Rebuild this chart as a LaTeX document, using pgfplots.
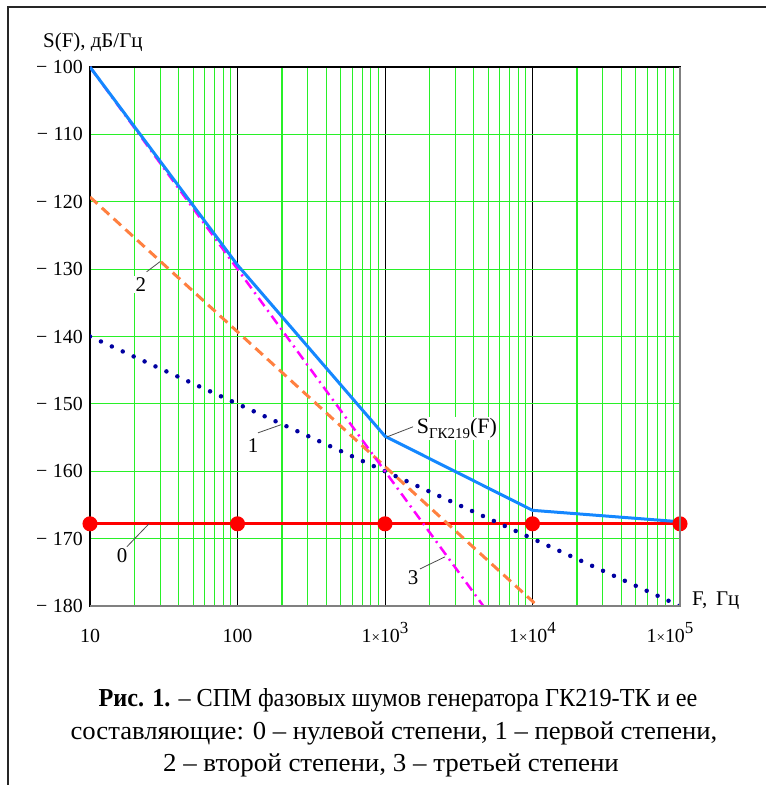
\documentclass[border=0pt]{standalone}
\usepackage{pgfplots}
\pgfplotsset{compat=1.18}
\usepackage{fontspec}
\setmainfont{Liberation Serif}
\definecolor{gridgreen}{RGB}{40,240,40}
\definecolor{navyd}{RGB}{0,0,160}
\definecolor{orng}{RGB}{255,128,64}
\definecolor{magn}{RGB}{255,0,255}
\definecolor{bluel}{RGB}{20,135,255}
\definecolor{redl}{RGB}{255,0,0}
\newcommand{\ex}[1]{1{\fontsize{15}{15}\selectfont ×}10\raisebox{0.5em}{\fontsize{17}{17}\selectfont #1}}
\begin{document}
\fontsize{20}{24}\selectfont
\begin{tikzpicture}
\useasboundingbox (-90bp,-179bp) rectangle (676bp,606bp);
\begin{axis}[
  at={(0,0)}, anchor=south west,
  scale only axis, width=590bp, height=539bp,
  xmode=log, xmin=10, xmax=100000, ymin=-180, ymax=-100,
  xtick={10,100,1000,10000,100000},
  xticklabels={10,100,{\ex{3}},{\ex{4}},{\hspace*{-20bp}\ex{5}}},
  minor xtick={20,30,40,50,60,70,80,90,200,300,400,500,600,700,800,900,2000,3000,4000,5000,6000,7000,8000,9000,20000,30000,40000,50000,60000,70000,80000,90000},
  ytick={-180,-170,-160,-150,-140,-130,-120,-110,-100},
  yticklabels={−\;180,−\;170,−\;160,−\;150,−\;140,−\;130,−\;120,−\;110,−\;100},
  major tick length=0pt, minor tick length=0pt,
  xmajorgrids=true, xminorgrids=true, ymajorgrids=true,
  major x grid style={black, line width=1bp},
  minor x grid style={gridgreen, line width=1.2bp},
  major y grid style={gridgreen, line width=1.2bp},
  axis line style={black, line width=1.2bp},
  tick label style={font=\fontsize{20}{24}\selectfont},
  xticklabel style={anchor=base, inner sep=0pt, yshift=-37bp},
  yticklabel style={anchor=east, inner sep=0pt, xshift=-7bp},
]
\addplot[redl, line width=3bp, mark=*, mark size=6bp, mark options={solid, fill=redl}] coordinates {(10,-167.8) (100,-167.8) (1000,-167.8) (10000,-167.8) (100000,-167.8)};
\addplot[navyd, line width=4.5bp, line cap=round, dash pattern=on 0bp off 12bp] coordinates {(10,-140) (100000,-180)};
\addplot[orng, line width=3bp, dash pattern=on 10bp off 6bp] coordinates {(10,-119.3) (100000,-199.3)};
\addplot[magn, line width=2.5bp, dash pattern=on 10bp off 5bp on 2bp off 5bp] coordinates {(10,-100) (100000,-220)};
\addplot[bluel, line width=3bp] coordinates {(10,-100) (100,-129.4) (1000,-154.8) (10000,-165.8) (100000,-167.5)};
% labels
\draw[black!70, line width=0.8bp] (axis cs:17.8,-171.2) -- (axis cs:25.1,-167.8);
\node[fill=white, inner sep=1.5bp, font=\fontsize{21}{24}\selectfont] at (axis cs:16.5,-172.6) {0};
\draw[black!70, line width=0.8bp] (axis cs:137.7,-154.3) -- (axis cs:197,-153.1);
\node[fill=white, inner sep=1.5bp, font=\fontsize{21}{24}\selectfont] at (axis cs:127.4,-156.2) {1};
\draw[black!70, line width=0.8bp] (axis cs:24.2,-130.4) -- (axis cs:29.8,-128.9);
\node[fill=white, inner sep=1.5bp, font=\fontsize{21}{24}\selectfont] at (axis cs:22.1,-132.3) {2};
\draw[black!70, line width=0.8bp] (axis cs:1726,-174.5) -- (axis cs:2553,-172.7);
\node[fill=white, inner sep=1.5bp, font=\fontsize{21}{24}\selectfont] at (axis cs:1549,-175.8) {3};
\draw[black!70, line width=0.8bp] (axis cs:1549,-153.4) -- (axis cs:1032,-154.9);
\node[anchor=west, fill=white, inner sep=1.5bp, font=\fontsize{22}{24}\selectfont] at (axis cs:1600,-153.6) {S\raisebox{-0.22em}{\fontsize{15}{15}\selectfont ГК219}(F)};
\end{axis}
\draw[gray, line width=1.5bp] (0,0) -- (590bp,0) -- (590bp,539bp);
\draw[black!85, line width=1.5bp] (-82bp,-179bp) -- (-82bp,599bp) -- (676bp,599bp);
\node[anchor=base west, inner sep=0pt, font=\fontsize{21}{24}\selectfont] at (-47bp,558bp) {S(F), дБ/Гц};
\node[anchor=base west, inner sep=0pt, font=\fontsize{21}{24}\selectfont] at (602bp,1bp) {F,\, Гц};
\node[inner sep=0pt, font=\fontsize{26}{30}\selectfont] at (308bp,-94bp) {\scalebox{0.936}[1]{\textbf{Рис. 1.} – СПМ фазовых шумов генератора ГК219-ТК и ее}};
\node[inner sep=0pt, font=\fontsize{26}{30}\selectfont] at (304bp,-127bp) {\scalebox{1.03}[1]{составляющие: 0 – нулевой степени, 1 – первой степени,}};
\node[inner sep=0pt, font=\fontsize{26}{30}\selectfont] at (301bp,-159bp) {\scalebox{1.04}[1]{2 – второй степени, 3 – третьей степени}};
\end{tikzpicture}
\end{document}
